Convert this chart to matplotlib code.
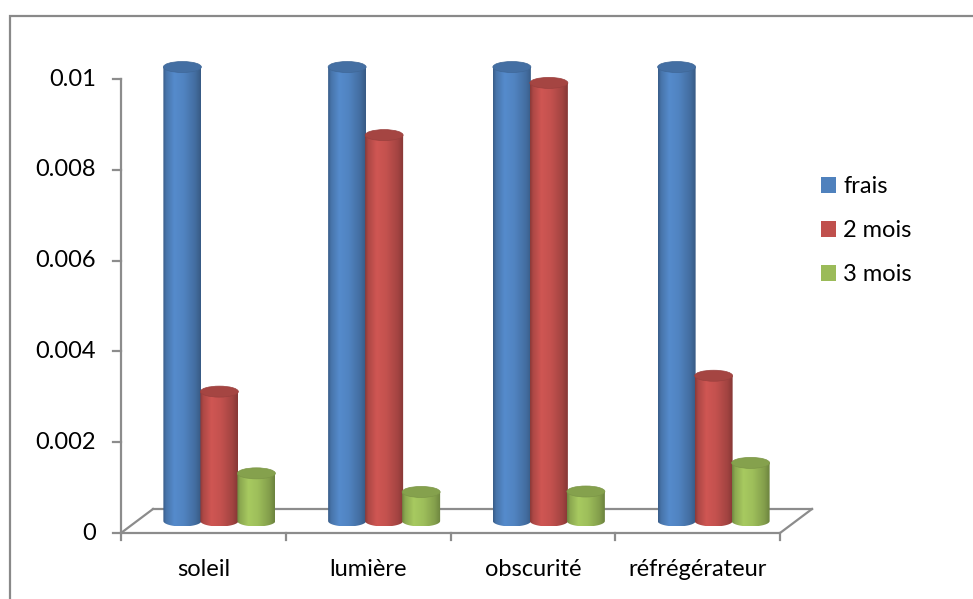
import numpy as np
import matplotlib
matplotlib.use("Agg")
import matplotlib.pyplot as plt
from matplotlib.patches import Ellipse, Rectangle
from matplotlib.path import Path
from matplotlib.colors import to_rgb

# ---- data ----
categories = ["soleil", "lumière", "obscurité", "réfrégérateur"]
series_names = ["frais", "2 mois", "3 mois"]
frais = [0.01, 0.01, 0.01, 0.01]
mois2 = [0.00285, 0.0085, 0.00965, 0.0032]
mois3 = [0.00105, 0.00064, 0.00065, 0.00128]
yticks = [0, 0.002, 0.004, 0.006, 0.008, 0.01]
ytick_labels = ["0", "0.002", "0.004", "0.006", "0.008", "0.01"]
colors = ["#4f81bd", "#c0504d", "#9bbb59"]

series = [frais, mois2, mois3]

plt.rcParams['font.family'] = ['Lato', 'DejaVu Sans']
FS = 17

W, H = 973, 599
fig = plt.figure(figsize=(W / 100, H / 100), dpi=100)
ax = fig.add_axes([0, 0, 1, 1])
ax.set_axis_off()

# scales: pixels per category step and per unit of value
px_x = 164.75
px_y = 45400.0
x_left_px, y_zero_px = 121, 533
xmin = -0.5 - x_left_px / px_x
xmax = xmin + W / px_x
ymin = -(H - y_zero_px) / px_y
ymax = ymin + H / px_y

# pseudo-3D floor depth
dx = 32 / px_x
dy = 24 / px_y

axis_col = "#8c8c8c"
lw_axis = 1.6
x0, x1 = -0.5, len(categories) - 0.5

# floor
ax.plot([x0, x1], [0, 0], color=axis_col, lw=lw_axis, zorder=1, solid_capstyle="butt")
ax.plot([x0 + dx, x1 + dx], [dy, dy], color=axis_col, lw=lw_axis, zorder=1)
ax.plot([x0, x0 + dx], [0, dy], color=axis_col, lw=lw_axis, zorder=1)
ax.plot([x1, x1 + dx], [0, dy], color=axis_col, lw=lw_axis, zorder=1)

# value axis
ax.plot([x0, x0], [0, yticks[-1]], color=axis_col, lw=lw_axis, zorder=1)
for t, lab in zip(yticks, ytick_labels):
    ax.plot([x0 - 8 / px_x, x0], [t, t], color=axis_col, lw=lw_axis, zorder=1)
    ax.text(x0 - 25 / px_x, t, lab, ha="right", va="center", fontsize=FS, color="black")

# category axis ticks and labels
for i in range(len(categories) + 1):
    ax.plot([x0 + i, x0 + i], [0, -7 / px_y], color=axis_col, lw=lw_axis, zorder=1)
for i, c in enumerate(categories):
    ax.text(i, -37 / px_y, c, ha="center", va="center", fontsize=FS, color="black")

# cylinders
bw = 38 / px_x
step = 37 / px_x
eh = 5.5 / px_y
base = dy / 2

tt = np.linspace(0, 1, 96)
shade = np.interp(tt, [0.0, 0.08, 0.3, 0.55, 0.85, 1.0],
                  [0.72, 0.9, 1.08, 1.02, 0.85, 0.7])


def cylinder(xc, value, color, z):
    rgb = np.array(to_rgb(color))
    top = base + value
    xl, xr = xc - bw / 2, xc + bw / 2
    img = np.clip(shade[None, :, None] * rgb[None, None, :], 0, 1)
    theta = np.linspace(np.pi, 2 * np.pi, 60)
    arc = np.column_stack([xc + bw / 2 * np.cos(theta), base + eh * np.sin(theta)])
    verts = np.vstack([[[xl, top], [xl, base]], arc, [[xr, base], [xr, top], [xl, top]]])
    path = Path(verts, closed=True)
    im = ax.imshow(img, extent=[xl, xr, base - eh, top], aspect="auto",
                   interpolation="bilinear", zorder=z, origin="lower")
    im.set_clip_path(path, ax.transData)
    topcol = np.clip(rgb * 0.86, 0, 1)
    ax.add_patch(Ellipse((xc, top), bw, 2 * eh, facecolor=topcol,
                         edgecolor=np.clip(rgb * 0.8, 0, 1), lw=0.5, zorder=z + 0.1))


for i in range(len(categories)):
    gx = i + dx / 2
    for s, vals in enumerate(series):
        cylinder(gx + (s - 1) * step, vals[i], colors[s], 2 + s)

# legend
handles = [Rectangle((0, 0), 1, 1, facecolor=c, edgecolor="none") for c in colors]
ax.legend(handles, series_names, loc="upper left",
          bbox_to_anchor=(821 / W, 1 - 176 / H), bbox_transform=fig.transFigure,
          frameon=False, fontsize=FS, handlelength=0.64, handleheight=0.64,
          handletextpad=0.3, labelspacing=0.98, borderpad=0, borderaxespad=0)

ax.set_xlim(xmin, xmax)
ax.set_ylim(ymin, ymax)

# chart frame
fig.add_artist(Rectangle((9.5 / W, -0.1), 2.0, 1 - 16 / H + 0.1, transform=fig.transFigure,
                         fill=False, edgecolor="#898989", lw=1.6))

fig.savefig("out.png", dpi=100)
